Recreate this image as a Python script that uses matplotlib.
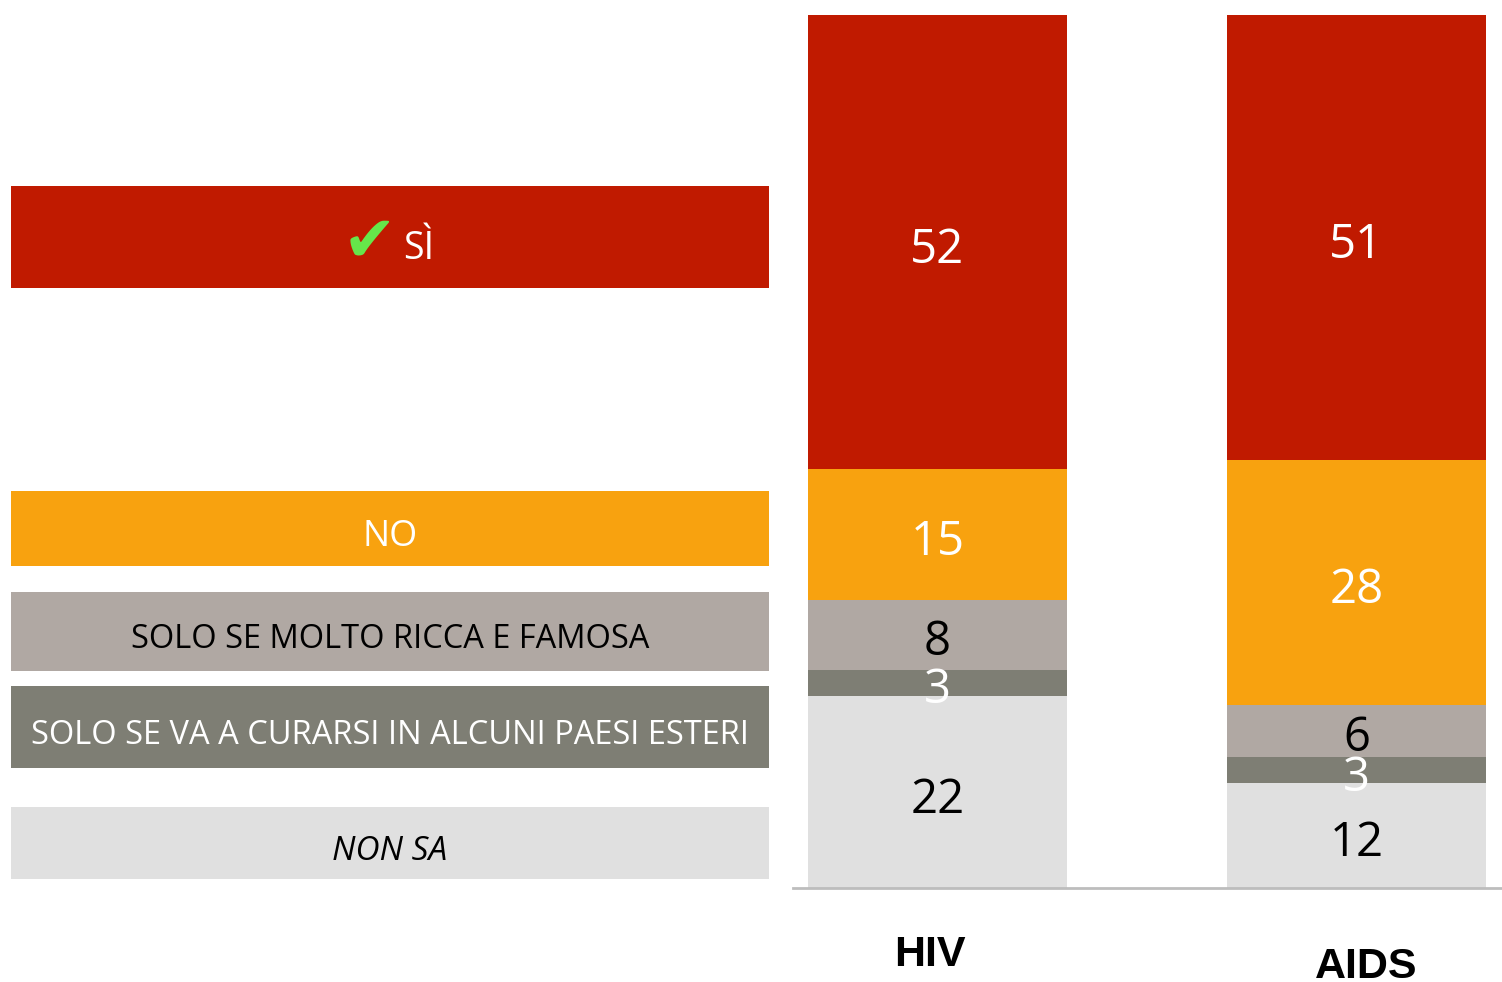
import numpy as np
import matplotlib.pyplot as plt

categories = ['HIV', 'AIDS']
answers = ['SÌ', 'NO', 'SOLO SE MOLTO RICCA E FAMOSA',
           'SOLO SE VA A CURARSI IN ALCUNI PAESI ESTERI', 'NON SA']
# values per answer, order: HIV, AIDS
values = {
    'SÌ': [52, 51],
    'NO': [15, 28],
    'SOLO SE MOLTO RICCA E FAMOSA': [8, 6],
    'SOLO SE VA A CURARSI IN ALCUNI PAESI ESTERI': [3, 3],
    'NON SA': [22, 12],
}
colors = ['#C01A00', '#F8A20F', '#B0A8A3', '#7E7E74', '#E0E0E0']
text_colors = ['white', 'white', 'black', 'white', 'black']

W, H = 1502, 982
fig = plt.figure(figsize=(W / 100, H / 100), dpi=100)
font = 'Open Sans'

# ---- stacked bars ----
ax = fig.add_axes([793 / W, (H - 888) / H, 1 - 793 / W, (888 - 15) / H])
x = np.arange(len(categories))
width = 259 / 419
stack_order = answers[::-1]  # bottom to top: NON SA ... SÌ
bottom = np.zeros(len(categories))
for name in stack_order:
    i = answers.index(name)
    v = np.array(values[name])
    ax.bar(x, v, width, bottom=bottom, color=colors[i], edgecolor='none', zorder=2)
    for xi, vi, bi in zip(x, v, bottom):
        ax.text(xi, bi + vi / 2 - 0.9, str(vi), ha='center', va='center',
                fontsize=34, color=text_colors[i], family=font, zorder=3)
    bottom += v

ax.set_xlim(-(937.5 - 793) / 419, 1 + (1502 - 1356.5) / 419)
ax.set_ylim(0, 100)
for s in ['top', 'right', 'left']:
    ax.spines[s].set_visible(False)
ax.spines['bottom'].set_color('#BDBDBD')
ax.spines['bottom'].set_linewidth(2)
ax.set_yticks([])
ax.set_xticks([])
label_y = [-7.7, -9.1]
label_dx = [-0.018, 0.022]
for xi, c, ly, dx in zip(x, categories, label_y, label_dx):
    ax.text(xi + dx, ly, c, ha='center', va='center', fontsize=31,
            fontweight='bold', family='Liberation Sans', clip_on=False)

# ---- legend boxes on the left ----
lg = fig.add_axes([0, 0, 1, 1])
lg.set_xlim(0, W)
lg.set_ylim(H, 0)
lg.axis('off')
box_rows = [(186, 288), (491, 566), (592, 671), (686, 768), (807, 879)]
sizes = [27, 26, 23.5, 23.5, 24]
for i, (name, (y0, y1)) in enumerate(zip(answers, box_rows)):
    lg.add_patch(plt.Rectangle((11, y0), 758, y1 - y0, color=colors[i], lw=0))
    cy = (y0 + y1) / 2
    style = 'italic' if name == 'NON SA' else 'normal'
    if name == 'SÌ':
        lg.text(369, cy + 5, '\u2714', ha='center', va='center', fontsize=46,
                color='#66E64A', family='DejaVu Sans')
        lg.text(419, cy + 12, name, ha='center', va='center', fontsize=sizes[i],
                color=text_colors[i], family=font)
    else:
        lg.text(390, cy + 8, name, ha='center', va='center', fontsize=sizes[i],
                color=text_colors[i], family=font, style=style)

fig.savefig('out.png', dpi=100)
